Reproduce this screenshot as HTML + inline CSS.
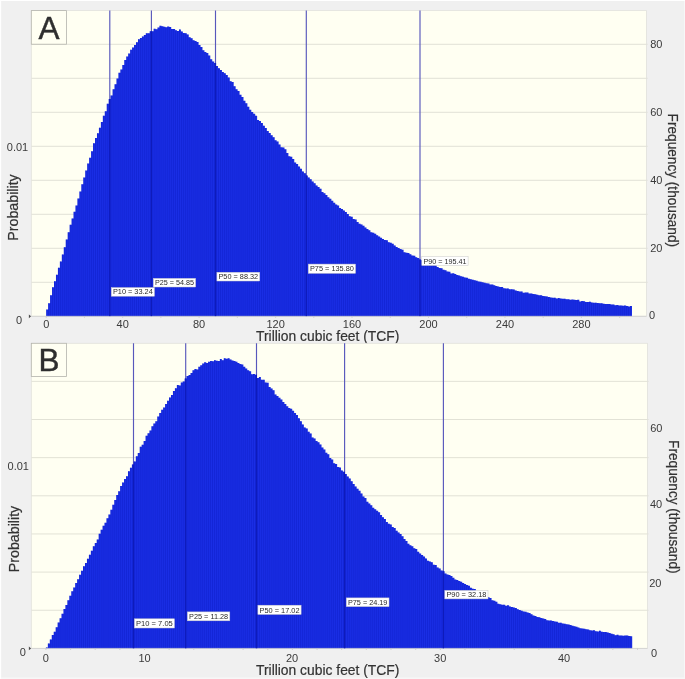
<!DOCTYPE html>
<html lang="en"><head><meta charset="utf-8"><title>Probability distributions A and B</title>
<style>html,body{margin:0;padding:0;background:#fff;}body{width:685px;height:679px;overflow:hidden;font-family:"Liberation Sans",Arial,sans-serif;}svg{display:block;}</style>
</head><body>
<svg width="685" height="679" viewBox="0 0 685 679" font-family="Liberation Sans, Arial, sans-serif">
<rect width="685" height="679" fill="#ffffff"/>
<rect x="1.2" y="1.0" width="683.8" height="678" fill="#f7f7f7"/><rect x="1.2" y="1.0" width="682.8" height="676.4" fill="#f0f0f0"/>
<rect x="31.3" y="10.6" width="615.1" height="305.7" fill="#fffff2"/>
<line x1="31.3" x2="647.6" y1="282.30" y2="282.30" stroke="#e2e2d6" stroke-width="1"/>
<line x1="31.3" x2="647.6" y1="248.30" y2="248.30" stroke="#e2e2d6" stroke-width="1"/>
<line x1="31.3" x2="647.6" y1="214.30" y2="214.30" stroke="#e2e2d6" stroke-width="1"/>
<line x1="31.3" x2="647.6" y1="180.30" y2="180.30" stroke="#e2e2d6" stroke-width="1"/>
<line x1="31.3" x2="647.6" y1="146.30" y2="146.30" stroke="#e2e2d6" stroke-width="1"/>
<line x1="31.3" x2="647.6" y1="112.30" y2="112.30" stroke="#e2e2d6" stroke-width="1"/>
<line x1="31.3" x2="647.6" y1="78.30" y2="78.30" stroke="#e2e2d6" stroke-width="1"/>
<line x1="31.3" x2="647.6" y1="44.30" y2="44.30" stroke="#e2e2d6" stroke-width="1"/>
<rect x="31.3" y="10.6" width="615.1" height="305.7" fill="none" stroke="#e2e2dc" stroke-width="0.8"/>
<line x1="109.8" x2="109.8" y1="10.6" y2="316.3" stroke="#5858bc" stroke-width="1.15"/>
<line x1="151.4" x2="151.4" y1="10.6" y2="316.3" stroke="#5858bc" stroke-width="1.15"/>
<line x1="215.5" x2="215.5" y1="10.6" y2="316.3" stroke="#5858bc" stroke-width="1.15"/>
<line x1="306.3" x2="306.3" y1="10.6" y2="316.3" stroke="#5858bc" stroke-width="1.15"/>
<line x1="420.0" x2="420.0" y1="10.6" y2="316.3" stroke="#5858bc" stroke-width="1.15"/>
<path d="M46.20,316.30L46.20,309.58L48.15,309.58L48.15,303.24L50.11,303.24L50.11,295.24L52.06,295.24L52.06,287.37L54.01,287.37L54.01,281.34L55.96,281.34L55.96,274.66L57.92,274.66L57.92,267.76L59.87,267.76L59.87,261.44L61.82,261.44L61.82,254.39L63.77,254.39L63.77,247.16L65.73,247.16L65.73,239.60L67.68,239.60L67.68,232.22L69.63,232.22L69.63,224.77L71.58,224.77L71.58,218.44L73.54,218.44L73.54,211.69L75.49,211.69L75.49,205.53L77.44,205.53L77.44,198.56L79.40,198.56L79.40,191.48L81.35,191.48L81.35,184.19L83.30,184.19L83.30,177.38L85.25,177.38L85.25,170.53L87.21,170.53L87.21,163.60L89.16,163.60L89.16,157.86L91.11,157.86L91.11,151.31L93.06,151.31L93.06,143.13L95.02,143.13L95.02,137.88L96.97,137.88L96.97,133.36L98.92,133.36L98.92,127.63L100.87,127.63L100.87,122.04L102.83,122.04L102.83,115.78L104.78,115.78L104.78,111.17L106.73,111.17L106.73,103.77L108.69,103.77L108.69,99.05L110.64,99.05L110.64,95.45L112.59,95.45L112.59,89.34L114.54,89.34L114.54,84.27L116.50,84.27L116.50,78.51L118.45,78.51L118.45,72.87L120.40,72.87L120.40,69.42L122.35,69.42L122.35,64.92L124.31,64.92L124.31,59.92L126.26,59.92L126.26,56.60L128.21,56.60L128.21,53.61L130.16,53.61L130.16,49.77L132.12,49.77L132.12,47.51L134.07,47.51L134.07,44.93L136.02,44.93L136.02,42.33L137.98,42.33L137.98,39.33L139.93,39.33L139.93,37.89L141.88,37.89L141.88,36.62L143.83,36.62L143.83,35.06L145.79,35.06L145.79,33.16L147.74,33.16L147.74,33.30L149.69,33.30L149.69,31.22L151.64,31.22L151.64,31.24L153.60,31.24L153.60,28.71L155.55,28.71L155.55,29.18L157.50,29.18L157.50,27.39L159.45,27.39L159.45,25.68L161.41,25.68L161.41,26.26L163.36,26.26L163.36,26.72L165.31,26.72L165.31,27.20L167.27,27.20L167.27,26.57L169.22,26.57L169.22,27.07L171.17,27.07L171.17,28.91L173.12,28.91L173.12,29.10L175.08,29.10L175.08,30.16L177.03,30.16L177.03,30.99L178.98,30.99L178.98,29.50L180.93,29.50L180.93,31.52L182.89,31.52L182.89,33.06L184.84,33.06L184.84,33.17L186.79,33.17L186.79,34.40L188.74,34.40L188.74,37.27L190.70,37.27L190.70,38.37L192.65,38.37L192.65,40.36L194.60,40.36L194.60,40.98L196.56,40.98L196.56,41.88L198.51,41.88L198.51,45.03L200.46,45.03L200.46,47.09L202.41,47.09L202.41,50.35L204.37,50.35L204.37,52.12L206.32,52.12L206.32,52.90L208.27,52.90L208.27,55.38L210.22,55.38L210.22,59.13L212.18,59.13L212.18,61.40L214.13,61.40L214.13,62.98L216.08,62.98L216.08,65.89L218.03,65.89L218.03,68.34L219.99,68.34L219.99,70.09L221.94,70.09L221.94,71.97L223.89,71.97L223.89,73.23L225.85,73.23L225.85,75.03L227.80,75.03L227.80,77.50L229.75,77.50L229.75,81.33L231.70,81.33L231.70,82.07L233.66,82.07L233.66,86.37L235.61,86.37L235.61,89.19L237.56,89.19L237.56,90.89L239.51,90.89L239.51,94.78L241.47,94.78L241.47,96.93L243.42,96.93L243.42,100.85L245.37,100.85L245.37,103.20L247.32,103.20L247.32,106.66L249.28,106.66L249.28,109.85L251.23,109.85L251.23,111.98L253.18,111.98L253.18,113.66L255.14,113.66L255.14,115.63L257.09,115.63L257.09,119.93L259.04,119.93L259.04,121.03L260.99,121.03L260.99,122.95L262.95,122.95L262.95,125.78L264.90,125.78L264.90,127.96L266.85,127.96L266.85,130.98L268.80,130.98L268.80,132.91L270.76,132.91L270.76,135.28L272.71,135.28L272.71,137.20L274.66,137.20L274.66,140.16L276.61,140.16L276.61,141.48L278.57,141.48L278.57,144.56L280.52,144.56L280.52,147.13L282.47,147.13L282.47,147.51L284.43,147.51L284.43,149.13L286.38,149.13L286.38,153.03L288.33,153.03L288.33,156.37L290.28,156.37L290.28,156.82L292.24,156.82L292.24,159.09L294.19,159.09L294.19,162.47L296.14,162.47L296.14,164.08L298.09,164.08L298.09,166.53L300.05,166.53L300.05,168.83L302.00,168.83L302.00,171.46L303.95,171.46L303.95,173.13L305.90,173.13L305.90,175.59L307.86,175.59L307.86,177.45L309.81,177.45L309.81,179.17L311.76,179.17L311.76,181.45L313.72,181.45L313.72,183.13L315.67,183.13L315.67,185.54L317.62,185.54L317.62,186.94L319.57,186.94L319.57,188.87L321.53,188.87L321.53,191.99L323.48,191.99L323.48,193.19L325.43,193.19L325.43,195.10L327.38,195.10L327.38,197.26L329.34,197.26L329.34,198.71L331.29,198.71L331.29,200.64L333.24,200.64L333.24,202.72L335.19,202.72L335.19,204.38L337.15,204.38L337.15,205.43L339.10,205.43L339.10,207.96L341.05,207.96L341.05,208.97L343.01,208.97L343.01,210.38L344.96,210.38L344.96,212.06L346.91,212.06L346.91,213.90L348.86,213.90L348.86,216.36L350.82,216.36L350.82,216.79L352.77,216.79L352.77,218.92L354.72,218.92L354.72,219.52L356.67,219.52L356.67,221.89L358.63,221.89L358.63,223.69L360.58,223.69L360.58,224.62L362.53,224.62L362.53,225.82L364.48,225.82L364.48,227.49L366.44,227.49L366.44,229.00L368.39,229.00L368.39,230.30L370.34,230.30L370.34,232.14L372.30,232.14L372.30,232.79L374.25,232.79L374.25,233.81L376.20,233.81L376.20,235.30L378.15,235.30L378.15,236.58L380.11,236.58L380.11,237.85L382.06,237.85L382.06,238.92L384.01,238.92L384.01,240.04L385.96,240.04L385.96,240.35L387.92,240.35L387.92,242.27L389.87,242.27L389.87,242.77L391.82,242.77L391.82,243.64L393.77,243.64L393.77,245.49L395.73,245.49L395.73,247.01L397.68,247.01L397.68,247.99L399.63,247.99L399.63,249.06L401.59,249.06L401.59,249.84L403.54,249.84L403.54,252.30L405.49,252.30L405.49,252.70L407.44,252.70L407.44,253.05L409.40,253.05L409.40,254.18L411.35,254.18L411.35,255.45L413.30,255.45L413.30,255.83L415.25,255.83L415.25,257.33L417.21,257.33L417.21,258.01L419.16,258.01L419.16,259.45L421.11,259.45L421.11,260.21L423.06,260.21L423.06,259.82L425.02,259.82L425.02,261.54L426.97,261.54L426.97,261.79L428.92,261.79L428.92,263.49L430.88,263.49L430.88,263.99L432.83,263.99L432.83,264.94L434.78,264.94L434.78,265.28L436.73,265.28L436.73,267.10L438.69,267.10L438.69,268.11L440.64,268.11L440.64,268.17L442.59,268.17L442.59,269.67L444.54,269.67L444.54,270.34L446.50,270.34L446.50,271.42L448.45,271.42L448.45,271.81L450.40,271.81L450.40,273.47L452.35,273.47L452.35,273.27L454.31,273.27L454.31,274.12L456.26,274.12L456.26,275.03L458.21,275.03L458.21,275.38L460.17,275.38L460.17,276.21L462.12,276.21L462.12,276.80L464.07,276.80L464.07,277.58L466.02,277.58L466.02,277.87L467.98,277.87L467.98,278.63L469.93,278.63L469.93,279.20L471.88,279.20L471.88,279.65L473.83,279.65L473.83,280.25L475.79,280.25L475.79,280.67L477.74,280.67L477.74,281.50L479.69,281.50L479.69,281.73L481.64,281.73L481.64,282.32L483.60,282.32L483.60,282.71L485.55,282.71L485.55,283.27L487.50,283.27L487.50,283.57L489.46,283.57L489.46,284.59L491.41,284.59L491.41,284.62L493.36,284.62L493.36,285.24L495.31,285.24L495.31,286.06L497.27,286.06L497.27,286.61L499.22,286.61L499.22,286.92L501.17,286.92L501.17,286.98L503.12,286.98L503.12,288.14L505.08,288.14L505.08,288.51L507.03,288.51L507.03,288.41L508.98,288.41L508.98,289.34L510.93,289.34L510.93,289.27L512.89,289.27L512.89,289.55L514.84,289.55L514.84,290.39L516.79,290.39L516.79,290.94L518.75,290.94L518.75,291.58L520.70,291.58L520.70,291.50L522.65,291.50L522.65,292.77L524.60,292.77L524.60,292.44L526.56,292.44L526.56,292.51L528.51,292.51L528.51,293.44L530.46,293.44L530.46,293.54L532.41,293.54L532.41,294.08L534.37,294.08L534.37,294.27L536.32,294.27L536.32,294.72L538.27,294.72L538.27,295.17L540.22,295.17L540.22,295.30L542.18,295.30L542.18,296.08L544.13,296.08L544.13,296.18L546.08,296.18L546.08,296.45L548.04,296.45L548.04,297.04L549.99,297.04L549.99,297.48L551.94,297.48L551.94,297.64L553.89,297.64L553.89,297.78L555.85,297.78L555.85,298.43L557.80,298.43L557.80,298.04L559.75,298.04L559.75,298.41L561.70,298.41L561.70,298.84L563.66,298.84L563.66,298.63L565.61,298.63L565.61,299.14L567.56,299.14L567.56,299.28L569.51,299.28L569.51,299.69L571.47,299.69L571.47,299.40L573.42,299.40L573.42,299.65L575.37,299.65L575.37,300.11L577.33,300.11L577.33,299.67L579.28,299.67L579.28,301.45L581.23,301.45L581.23,300.91L583.18,300.91L583.18,301.32L585.14,301.32L585.14,302.05L587.09,302.05L587.09,302.06L589.04,302.06L589.04,301.81L590.99,301.81L590.99,302.57L592.95,302.57L592.95,302.79L594.90,302.79L594.90,302.65L596.85,302.65L596.85,302.92L598.80,302.92L598.80,303.36L600.76,303.36L600.76,303.28L602.71,303.28L602.71,303.87L604.66,303.87L604.66,304.04L606.62,304.04L606.62,304.03L608.57,304.03L608.57,304.05L610.52,304.05L610.52,304.51L612.47,304.51L612.47,304.52L614.43,304.52L614.43,305.15L616.38,305.15L616.38,305.12L618.33,305.12L618.33,305.45L620.28,305.45L620.28,305.46L622.24,305.46L622.24,305.64L624.19,305.64L624.19,305.53L626.14,305.53L626.14,306.00L628.09,306.00L628.09,306.38L630.05,306.38L630.05,305.98L632.00,305.98L632.00,316.30Z" fill="#1a2ee5"/>
<g clip-path="url(#clipA)">
<rect x="46.2" y="10.6" width="585.8" height="305.7" fill="url(#stripeA)"/>
</g>
<defs><clipPath id="clipA"><path d="M46.20,316.30L46.20,309.58L48.15,309.58L48.15,303.24L50.11,303.24L50.11,295.24L52.06,295.24L52.06,287.37L54.01,287.37L54.01,281.34L55.96,281.34L55.96,274.66L57.92,274.66L57.92,267.76L59.87,267.76L59.87,261.44L61.82,261.44L61.82,254.39L63.77,254.39L63.77,247.16L65.73,247.16L65.73,239.60L67.68,239.60L67.68,232.22L69.63,232.22L69.63,224.77L71.58,224.77L71.58,218.44L73.54,218.44L73.54,211.69L75.49,211.69L75.49,205.53L77.44,205.53L77.44,198.56L79.40,198.56L79.40,191.48L81.35,191.48L81.35,184.19L83.30,184.19L83.30,177.38L85.25,177.38L85.25,170.53L87.21,170.53L87.21,163.60L89.16,163.60L89.16,157.86L91.11,157.86L91.11,151.31L93.06,151.31L93.06,143.13L95.02,143.13L95.02,137.88L96.97,137.88L96.97,133.36L98.92,133.36L98.92,127.63L100.87,127.63L100.87,122.04L102.83,122.04L102.83,115.78L104.78,115.78L104.78,111.17L106.73,111.17L106.73,103.77L108.69,103.77L108.69,99.05L110.64,99.05L110.64,95.45L112.59,95.45L112.59,89.34L114.54,89.34L114.54,84.27L116.50,84.27L116.50,78.51L118.45,78.51L118.45,72.87L120.40,72.87L120.40,69.42L122.35,69.42L122.35,64.92L124.31,64.92L124.31,59.92L126.26,59.92L126.26,56.60L128.21,56.60L128.21,53.61L130.16,53.61L130.16,49.77L132.12,49.77L132.12,47.51L134.07,47.51L134.07,44.93L136.02,44.93L136.02,42.33L137.98,42.33L137.98,39.33L139.93,39.33L139.93,37.89L141.88,37.89L141.88,36.62L143.83,36.62L143.83,35.06L145.79,35.06L145.79,33.16L147.74,33.16L147.74,33.30L149.69,33.30L149.69,31.22L151.64,31.22L151.64,31.24L153.60,31.24L153.60,28.71L155.55,28.71L155.55,29.18L157.50,29.18L157.50,27.39L159.45,27.39L159.45,25.68L161.41,25.68L161.41,26.26L163.36,26.26L163.36,26.72L165.31,26.72L165.31,27.20L167.27,27.20L167.27,26.57L169.22,26.57L169.22,27.07L171.17,27.07L171.17,28.91L173.12,28.91L173.12,29.10L175.08,29.10L175.08,30.16L177.03,30.16L177.03,30.99L178.98,30.99L178.98,29.50L180.93,29.50L180.93,31.52L182.89,31.52L182.89,33.06L184.84,33.06L184.84,33.17L186.79,33.17L186.79,34.40L188.74,34.40L188.74,37.27L190.70,37.27L190.70,38.37L192.65,38.37L192.65,40.36L194.60,40.36L194.60,40.98L196.56,40.98L196.56,41.88L198.51,41.88L198.51,45.03L200.46,45.03L200.46,47.09L202.41,47.09L202.41,50.35L204.37,50.35L204.37,52.12L206.32,52.12L206.32,52.90L208.27,52.90L208.27,55.38L210.22,55.38L210.22,59.13L212.18,59.13L212.18,61.40L214.13,61.40L214.13,62.98L216.08,62.98L216.08,65.89L218.03,65.89L218.03,68.34L219.99,68.34L219.99,70.09L221.94,70.09L221.94,71.97L223.89,71.97L223.89,73.23L225.85,73.23L225.85,75.03L227.80,75.03L227.80,77.50L229.75,77.50L229.75,81.33L231.70,81.33L231.70,82.07L233.66,82.07L233.66,86.37L235.61,86.37L235.61,89.19L237.56,89.19L237.56,90.89L239.51,90.89L239.51,94.78L241.47,94.78L241.47,96.93L243.42,96.93L243.42,100.85L245.37,100.85L245.37,103.20L247.32,103.20L247.32,106.66L249.28,106.66L249.28,109.85L251.23,109.85L251.23,111.98L253.18,111.98L253.18,113.66L255.14,113.66L255.14,115.63L257.09,115.63L257.09,119.93L259.04,119.93L259.04,121.03L260.99,121.03L260.99,122.95L262.95,122.95L262.95,125.78L264.90,125.78L264.90,127.96L266.85,127.96L266.85,130.98L268.80,130.98L268.80,132.91L270.76,132.91L270.76,135.28L272.71,135.28L272.71,137.20L274.66,137.20L274.66,140.16L276.61,140.16L276.61,141.48L278.57,141.48L278.57,144.56L280.52,144.56L280.52,147.13L282.47,147.13L282.47,147.51L284.43,147.51L284.43,149.13L286.38,149.13L286.38,153.03L288.33,153.03L288.33,156.37L290.28,156.37L290.28,156.82L292.24,156.82L292.24,159.09L294.19,159.09L294.19,162.47L296.14,162.47L296.14,164.08L298.09,164.08L298.09,166.53L300.05,166.53L300.05,168.83L302.00,168.83L302.00,171.46L303.95,171.46L303.95,173.13L305.90,173.13L305.90,175.59L307.86,175.59L307.86,177.45L309.81,177.45L309.81,179.17L311.76,179.17L311.76,181.45L313.72,181.45L313.72,183.13L315.67,183.13L315.67,185.54L317.62,185.54L317.62,186.94L319.57,186.94L319.57,188.87L321.53,188.87L321.53,191.99L323.48,191.99L323.48,193.19L325.43,193.19L325.43,195.10L327.38,195.10L327.38,197.26L329.34,197.26L329.34,198.71L331.29,198.71L331.29,200.64L333.24,200.64L333.24,202.72L335.19,202.72L335.19,204.38L337.15,204.38L337.15,205.43L339.10,205.43L339.10,207.96L341.05,207.96L341.05,208.97L343.01,208.97L343.01,210.38L344.96,210.38L344.96,212.06L346.91,212.06L346.91,213.90L348.86,213.90L348.86,216.36L350.82,216.36L350.82,216.79L352.77,216.79L352.77,218.92L354.72,218.92L354.72,219.52L356.67,219.52L356.67,221.89L358.63,221.89L358.63,223.69L360.58,223.69L360.58,224.62L362.53,224.62L362.53,225.82L364.48,225.82L364.48,227.49L366.44,227.49L366.44,229.00L368.39,229.00L368.39,230.30L370.34,230.30L370.34,232.14L372.30,232.14L372.30,232.79L374.25,232.79L374.25,233.81L376.20,233.81L376.20,235.30L378.15,235.30L378.15,236.58L380.11,236.58L380.11,237.85L382.06,237.85L382.06,238.92L384.01,238.92L384.01,240.04L385.96,240.04L385.96,240.35L387.92,240.35L387.92,242.27L389.87,242.27L389.87,242.77L391.82,242.77L391.82,243.64L393.77,243.64L393.77,245.49L395.73,245.49L395.73,247.01L397.68,247.01L397.68,247.99L399.63,247.99L399.63,249.06L401.59,249.06L401.59,249.84L403.54,249.84L403.54,252.30L405.49,252.30L405.49,252.70L407.44,252.70L407.44,253.05L409.40,253.05L409.40,254.18L411.35,254.18L411.35,255.45L413.30,255.45L413.30,255.83L415.25,255.83L415.25,257.33L417.21,257.33L417.21,258.01L419.16,258.01L419.16,259.45L421.11,259.45L421.11,260.21L423.06,260.21L423.06,259.82L425.02,259.82L425.02,261.54L426.97,261.54L426.97,261.79L428.92,261.79L428.92,263.49L430.88,263.49L430.88,263.99L432.83,263.99L432.83,264.94L434.78,264.94L434.78,265.28L436.73,265.28L436.73,267.10L438.69,267.10L438.69,268.11L440.64,268.11L440.64,268.17L442.59,268.17L442.59,269.67L444.54,269.67L444.54,270.34L446.50,270.34L446.50,271.42L448.45,271.42L448.45,271.81L450.40,271.81L450.40,273.47L452.35,273.47L452.35,273.27L454.31,273.27L454.31,274.12L456.26,274.12L456.26,275.03L458.21,275.03L458.21,275.38L460.17,275.38L460.17,276.21L462.12,276.21L462.12,276.80L464.07,276.80L464.07,277.58L466.02,277.58L466.02,277.87L467.98,277.87L467.98,278.63L469.93,278.63L469.93,279.20L471.88,279.20L471.88,279.65L473.83,279.65L473.83,280.25L475.79,280.25L475.79,280.67L477.74,280.67L477.74,281.50L479.69,281.50L479.69,281.73L481.64,281.73L481.64,282.32L483.60,282.32L483.60,282.71L485.55,282.71L485.55,283.27L487.50,283.27L487.50,283.57L489.46,283.57L489.46,284.59L491.41,284.59L491.41,284.62L493.36,284.62L493.36,285.24L495.31,285.24L495.31,286.06L497.27,286.06L497.27,286.61L499.22,286.61L499.22,286.92L501.17,286.92L501.17,286.98L503.12,286.98L503.12,288.14L505.08,288.14L505.08,288.51L507.03,288.51L507.03,288.41L508.98,288.41L508.98,289.34L510.93,289.34L510.93,289.27L512.89,289.27L512.89,289.55L514.84,289.55L514.84,290.39L516.79,290.39L516.79,290.94L518.75,290.94L518.75,291.58L520.70,291.58L520.70,291.50L522.65,291.50L522.65,292.77L524.60,292.77L524.60,292.44L526.56,292.44L526.56,292.51L528.51,292.51L528.51,293.44L530.46,293.44L530.46,293.54L532.41,293.54L532.41,294.08L534.37,294.08L534.37,294.27L536.32,294.27L536.32,294.72L538.27,294.72L538.27,295.17L540.22,295.17L540.22,295.30L542.18,295.30L542.18,296.08L544.13,296.08L544.13,296.18L546.08,296.18L546.08,296.45L548.04,296.45L548.04,297.04L549.99,297.04L549.99,297.48L551.94,297.48L551.94,297.64L553.89,297.64L553.89,297.78L555.85,297.78L555.85,298.43L557.80,298.43L557.80,298.04L559.75,298.04L559.75,298.41L561.70,298.41L561.70,298.84L563.66,298.84L563.66,298.63L565.61,298.63L565.61,299.14L567.56,299.14L567.56,299.28L569.51,299.28L569.51,299.69L571.47,299.69L571.47,299.40L573.42,299.40L573.42,299.65L575.37,299.65L575.37,300.11L577.33,300.11L577.33,299.67L579.28,299.67L579.28,301.45L581.23,301.45L581.23,300.91L583.18,300.91L583.18,301.32L585.14,301.32L585.14,302.05L587.09,302.05L587.09,302.06L589.04,302.06L589.04,301.81L590.99,301.81L590.99,302.57L592.95,302.57L592.95,302.79L594.90,302.79L594.90,302.65L596.85,302.65L596.85,302.92L598.80,302.92L598.80,303.36L600.76,303.36L600.76,303.28L602.71,303.28L602.71,303.87L604.66,303.87L604.66,304.04L606.62,304.04L606.62,304.03L608.57,304.03L608.57,304.05L610.52,304.05L610.52,304.51L612.47,304.51L612.47,304.52L614.43,304.52L614.43,305.15L616.38,305.15L616.38,305.12L618.33,305.12L618.33,305.45L620.28,305.45L620.28,305.46L622.24,305.46L622.24,305.64L624.19,305.64L624.19,305.53L626.14,305.53L626.14,306.00L628.09,306.00L628.09,306.38L630.05,306.38L630.05,305.98L632.00,305.98L632.00,316.30Z"/></clipPath><pattern id="stripeA" x="46.2" y="0" width="1.9527" height="10" patternUnits="userSpaceOnUse"><rect x="0" y="0" width="0.8" height="10" fill="#0c1cc6" fill-opacity="0.6"/></pattern></defs>
<line x1="31.3" x2="646.4" y1="316.3" y2="316.3" stroke="#d0d0d0" stroke-width="0.8"/>
<line x1="46.20" x2="46.20" y1="316.3" y2="317.90000000000003" stroke="#c4c4c4" stroke-width="0.7"/>
<line x1="84.43" x2="84.43" y1="316.3" y2="317.90000000000003" stroke="#c4c4c4" stroke-width="0.7"/>
<line x1="122.66" x2="122.66" y1="316.3" y2="317.90000000000003" stroke="#c4c4c4" stroke-width="0.7"/>
<line x1="160.89" x2="160.89" y1="316.3" y2="317.90000000000003" stroke="#c4c4c4" stroke-width="0.7"/>
<line x1="199.12" x2="199.12" y1="316.3" y2="317.90000000000003" stroke="#c4c4c4" stroke-width="0.7"/>
<line x1="237.35" x2="237.35" y1="316.3" y2="317.90000000000003" stroke="#c4c4c4" stroke-width="0.7"/>
<line x1="275.58" x2="275.58" y1="316.3" y2="317.90000000000003" stroke="#c4c4c4" stroke-width="0.7"/>
<line x1="313.81" x2="313.81" y1="316.3" y2="317.90000000000003" stroke="#c4c4c4" stroke-width="0.7"/>
<line x1="352.04" x2="352.04" y1="316.3" y2="317.90000000000003" stroke="#c4c4c4" stroke-width="0.7"/>
<line x1="390.27" x2="390.27" y1="316.3" y2="317.90000000000003" stroke="#c4c4c4" stroke-width="0.7"/>
<line x1="428.50" x2="428.50" y1="316.3" y2="317.90000000000003" stroke="#c4c4c4" stroke-width="0.7"/>
<line x1="466.73" x2="466.73" y1="316.3" y2="317.90000000000003" stroke="#c4c4c4" stroke-width="0.7"/>
<line x1="504.96" x2="504.96" y1="316.3" y2="317.90000000000003" stroke="#c4c4c4" stroke-width="0.7"/>
<line x1="543.19" x2="543.19" y1="316.3" y2="317.90000000000003" stroke="#c4c4c4" stroke-width="0.7"/>
<line x1="581.42" x2="581.42" y1="316.3" y2="317.90000000000003" stroke="#c4c4c4" stroke-width="0.7"/>
<line x1="619.65" x2="619.65" y1="316.3" y2="317.90000000000003" stroke="#c4c4c4" stroke-width="0.7"/>
<g clip-path="url(#clipA)"><line x1="109.8" x2="109.8" y1="10.6" y2="316.3" stroke="#0e1bbb" stroke-width="1.3"/></g>
<g clip-path="url(#clipA)"><line x1="151.4" x2="151.4" y1="10.6" y2="316.3" stroke="#0e1bbb" stroke-width="1.3"/></g>
<g clip-path="url(#clipA)"><line x1="215.5" x2="215.5" y1="10.6" y2="316.3" stroke="#0e1bbb" stroke-width="1.3"/></g>
<g clip-path="url(#clipA)"><line x1="306.3" x2="306.3" y1="10.6" y2="316.3" stroke="#0e1bbb" stroke-width="1.3"/></g>
<g clip-path="url(#clipA)"><line x1="420.0" x2="420.0" y1="10.6" y2="316.3" stroke="#0e1bbb" stroke-width="1.3"/></g>
<rect x="111.3" y="287.6" width="43.10" height="8.60" fill="#ffffff" stroke="#c9c9c9" stroke-width="0.5"/>
<text x="112.90" y="294.30" font-size="7" fill="#2a2a2a" textLength="39.90" lengthAdjust="spacingAndGlyphs">P10 = 33.24</text>
<rect x="153.3" y="278.4" width="42.30" height="8.60" fill="#ffffff" stroke="#c9c9c9" stroke-width="0.5"/>
<text x="154.90" y="285.10" font-size="7" fill="#2a2a2a" textLength="39.10" lengthAdjust="spacingAndGlyphs">P25 = 54.85</text>
<rect x="216.9" y="272.3" width="42.80" height="8.70" fill="#ffffff" stroke="#c9c9c9" stroke-width="0.5"/>
<text x="218.50" y="279.10" font-size="7" fill="#2a2a2a" textLength="39.60" lengthAdjust="spacingAndGlyphs">P50 = 88.32</text>
<rect x="308.3" y="264.1" width="47.20" height="9.20" fill="#ffffff" stroke="#c9c9c9" stroke-width="0.5"/>
<text x="309.90" y="271.40" font-size="7" fill="#2a2a2a" textLength="44.00" lengthAdjust="spacingAndGlyphs">P75 = 135.80</text>
<rect x="421.8" y="256.6" width="46.30" height="8.90" fill="#ffffff" stroke="#c9c9c9" stroke-width="0.5"/>
<text x="423.40" y="263.60" font-size="7" fill="#2a2a2a" textLength="43.10" lengthAdjust="spacingAndGlyphs">P90 = 195.41</text>
<rect x="31.3" y="10.6" width="35.2" height="33.6" fill="#fffff2" stroke="#b4b4ac" stroke-width="0.8"/>
<text x="49.0" y="38.70" font-size="31.5" text-anchor="middle" fill="#2e2e2e" stroke="#2e2e2e" stroke-width="0.4">A</text>
<text x="28.2" y="151.4" font-size="11" text-anchor="end" fill="#3a3a3a">0.01</text>
<text x="22.1" y="324.0" font-size="11" text-anchor="end" fill="#3a3a3a">0</text>
<text x="650.2" y="47.7" font-size="11" fill="#3a3a3a">80</text>
<text x="650.2" y="115.7" font-size="11" fill="#3a3a3a">60</text>
<text x="650.2" y="183.9" font-size="11" fill="#3a3a3a">40</text>
<text x="650.2" y="251.9" font-size="11" fill="#3a3a3a">20</text>
<text x="648.9" y="318.7" font-size="11" fill="#3a3a3a">0</text>
<text x="46.2" y="328.0" font-size="11" text-anchor="middle" fill="#3a3a3a">0</text>
<text x="122.66" y="328.0" font-size="11" text-anchor="middle" fill="#3a3a3a">40</text>
<text x="199.12" y="328.0" font-size="11" text-anchor="middle" fill="#3a3a3a">80</text>
<text x="275.58" y="328.0" font-size="11" text-anchor="middle" fill="#3a3a3a">120</text>
<text x="352.03999999999996" y="328.0" font-size="11" text-anchor="middle" fill="#3a3a3a">160</text>
<text x="428.5" y="328.0" font-size="11" text-anchor="middle" fill="#3a3a3a">200</text>
<text x="504.96" y="328.0" font-size="11" text-anchor="middle" fill="#3a3a3a">240</text>
<text x="581.4200000000001" y="328.0" font-size="11" text-anchor="middle" fill="#3a3a3a">280</text>
<path d="M28.900000000000002,314.40000000000003L31.1,316.3L28.900000000000002,318.2Z" fill="#4a4a4a"/>
<text x="256.0" y="341.0" font-size="14" fill="#333" textLength="143.4" stroke="#333" stroke-width="0.2" lengthAdjust="spacingAndGlyphs">Trillion cubic feet (TCF)</text>
<text transform="translate(18.4,207.5) rotate(-90)" font-size="14" fill="#333" text-anchor="middle" textLength="66.5" stroke="#333" stroke-width="0.2" lengthAdjust="spacingAndGlyphs">Probability</text>
<text transform="translate(668.3,180.3) rotate(90)" font-size="14" fill="#333" text-anchor="middle" textLength="133.4" stroke="#333" stroke-width="0.2" lengthAdjust="spacingAndGlyphs">Frequency (thousand)</text>
<rect x="31.3" y="343.3" width="616.1" height="305.09999999999997" fill="#fffff2"/>
<line x1="31.3" x2="648.6" y1="610.25" y2="610.25" stroke="#e2e2d6" stroke-width="1"/>
<line x1="31.3" x2="648.6" y1="572.10" y2="572.10" stroke="#e2e2d6" stroke-width="1"/>
<line x1="31.3" x2="648.6" y1="533.95" y2="533.95" stroke="#e2e2d6" stroke-width="1"/>
<line x1="31.3" x2="648.6" y1="495.80" y2="495.80" stroke="#e2e2d6" stroke-width="1"/>
<line x1="31.3" x2="648.6" y1="457.65" y2="457.65" stroke="#e2e2d6" stroke-width="1"/>
<line x1="31.3" x2="648.6" y1="419.50" y2="419.50" stroke="#e2e2d6" stroke-width="1"/>
<line x1="31.3" x2="648.6" y1="381.35" y2="381.35" stroke="#e2e2d6" stroke-width="1"/>
<rect x="31.3" y="343.3" width="616.1" height="305.09999999999997" fill="none" stroke="#e2e2dc" stroke-width="0.8"/>
<line x1="133.5" x2="133.5" y1="343.3" y2="648.4" stroke="#5858bc" stroke-width="1.15"/>
<line x1="185.7" x2="185.7" y1="343.3" y2="648.4" stroke="#5858bc" stroke-width="1.15"/>
<line x1="256.5" x2="256.5" y1="343.3" y2="648.4" stroke="#5858bc" stroke-width="1.15"/>
<line x1="344.6" x2="344.6" y1="343.3" y2="648.4" stroke="#5858bc" stroke-width="1.15"/>
<line x1="443.4" x2="443.4" y1="343.3" y2="648.4" stroke="#5858bc" stroke-width="1.15"/>
<path d="M45.90,648.40L45.90,647.60L47.85,647.60L47.85,643.52L49.81,643.52L49.81,639.54L51.76,639.54L51.76,634.94L53.72,634.94L53.72,631.78L55.67,631.78L55.67,627.28L57.63,627.28L57.63,622.45L59.58,622.45L59.58,618.28L61.53,618.28L61.53,613.69L63.49,613.69L63.49,609.02L65.44,609.02L65.44,605.03L67.40,605.03L67.40,600.19L69.35,600.19L69.35,595.78L71.31,595.78L71.31,591.29L73.26,591.29L73.26,587.46L75.22,587.46L75.22,583.08L77.17,583.08L77.17,579.17L79.12,579.17L79.12,574.64L81.08,574.64L81.08,570.81L83.03,570.81L83.03,566.36L84.99,566.36L84.99,562.99L86.94,562.99L86.94,558.72L88.90,558.72L88.90,554.77L90.85,554.77L90.85,550.79L92.80,550.79L92.80,546.19L94.76,546.19L94.76,542.97L96.71,542.97L96.71,539.53L98.67,539.53L98.67,533.86L100.62,533.86L100.62,529.74L102.58,529.74L102.58,525.76L104.53,525.76L104.53,522.76L106.48,522.76L106.48,518.26L108.44,518.26L108.44,514.46L110.39,514.46L110.39,509.82L112.35,509.82L112.35,504.84L114.30,504.84L114.30,500.06L116.26,500.06L116.26,495.10L118.21,495.10L118.21,491.24L120.16,491.24L120.16,486.02L122.12,486.02L122.12,482.43L124.07,482.43L124.07,478.97L126.03,478.97L126.03,476.16L127.98,476.16L127.98,471.23L129.94,471.23L129.94,467.63L131.89,467.63L131.89,464.38L133.84,464.38L133.84,461.38L135.80,461.38L135.80,456.37L137.75,456.37L137.75,452.92L139.71,452.92L139.71,446.70L141.66,446.70L141.66,444.66L143.62,444.66L143.62,440.88L145.57,440.88L145.57,435.69L147.53,435.69L147.53,433.18L149.48,433.18L149.48,430.41L151.43,430.41L151.43,426.28L153.39,426.28L153.39,423.57L155.34,423.57L155.34,421.25L157.30,421.25L157.30,416.61L159.25,416.61L159.25,413.09L161.21,413.09L161.21,409.67L163.16,409.67L163.16,407.59L165.11,407.59L165.11,403.91L167.07,403.91L167.07,400.73L169.02,400.73L169.02,397.55L170.98,397.55L170.98,395.02L172.93,395.02L172.93,391.02L174.89,391.02L174.89,388.16L176.84,388.16L176.84,385.12L178.79,385.12L178.79,385.59L180.75,385.59L180.75,382.59L182.70,382.59L182.70,381.61L184.66,381.61L184.66,378.48L186.61,378.48L186.61,376.02L188.57,376.02L188.57,375.12L190.52,375.12L190.52,372.91L192.47,372.91L192.48,370.26L194.43,370.26L194.43,368.89L196.38,368.89L196.38,369.41L198.34,369.41L198.34,366.81L200.29,366.81L200.29,365.37L202.25,365.37L202.25,363.54L204.20,363.54L204.20,362.37L206.16,362.37L206.16,363.07L208.11,363.07L208.11,361.85L210.06,361.85L210.06,360.98L212.02,360.98L212.02,361.15L213.97,361.15L213.97,360.21L215.93,360.21L215.93,360.71L217.88,360.71L217.88,360.99L219.84,360.99L219.84,358.90L221.79,358.90L221.79,360.23L223.74,360.23L223.74,358.24L225.70,358.24L225.70,358.84L227.65,358.84L227.65,358.37L229.61,358.37L229.61,359.47L231.56,359.47L231.56,360.50L233.52,360.50L233.52,361.00L235.47,361.00L235.47,361.72L237.42,361.72L237.42,362.94L239.38,362.94L239.38,364.03L241.33,364.03L241.33,364.62L243.29,364.62L243.29,366.84L245.24,366.84L245.24,368.57L247.20,368.57L247.20,370.22L249.15,370.22L249.15,371.34L251.11,371.34L251.11,374.14L253.06,374.14L253.06,373.92L255.01,373.92L255.01,374.75L256.97,374.75L256.97,377.91L258.92,377.91L258.92,376.99L260.88,376.99L260.88,379.86L262.83,379.86L262.83,379.85L264.79,379.85L264.79,382.48L266.74,382.48L266.74,382.69L268.69,382.69L268.69,387.03L270.65,387.03L270.65,388.56L272.60,388.56L272.60,390.29L274.56,390.29L274.56,394.46L276.51,394.46L276.51,396.04L278.47,396.04L278.47,397.79L280.42,397.79L280.42,399.45L282.37,399.45L282.37,402.09L284.33,402.09L284.33,403.97L286.28,403.97L286.28,406.36L288.24,406.36L288.24,408.09L290.19,408.09L290.19,408.80L292.15,408.80L292.15,410.81L294.10,410.81L294.10,413.06L296.05,413.06L296.05,415.05L298.01,415.05L298.01,418.29L299.96,418.29L299.96,421.37L301.92,421.37L301.92,424.53L303.87,424.53L303.87,427.44L305.83,427.44L305.83,428.50L307.78,428.50L307.78,431.83L309.74,431.83L309.74,433.57L311.69,433.57L311.69,437.53L313.64,437.53L313.64,438.40L315.60,438.40L315.60,440.90L317.55,440.90L317.55,442.13L319.51,442.13L319.51,444.42L321.46,444.42L321.46,447.39L323.42,447.39L323.42,449.56L325.37,449.56L325.37,452.66L327.32,452.66L327.32,454.14L329.28,454.14L329.28,458.03L331.23,458.03L331.23,459.42L333.19,459.42L333.19,463.15L335.14,463.15L335.14,464.04L337.10,464.04L337.10,466.88L339.05,466.88L339.05,467.48L341.00,467.48L341.00,470.60L342.96,470.60L342.96,471.86L344.91,471.86L344.91,474.11L346.87,474.11L346.87,476.47L348.82,476.47L348.82,478.46L350.78,478.46L350.78,481.14L352.73,481.14L352.73,483.94L354.68,483.94L354.68,486.51L356.64,486.51L356.64,488.75L358.59,488.75L358.59,490.63L360.55,490.63L360.55,493.48L362.50,493.48L362.50,496.38L364.46,496.38L364.46,497.90L366.41,497.90L366.41,501.77L368.37,501.77L368.37,503.44L370.32,503.44L370.32,505.36L372.27,505.36L372.27,507.73L374.23,507.73L374.23,509.29L376.18,509.29L376.18,510.82L378.14,510.82L378.14,512.13L380.09,512.13L380.09,514.91L382.05,514.91L382.05,517.22L384.00,517.22L384.00,518.95L385.95,518.95L385.95,522.08L387.91,522.08L387.91,523.80L389.86,523.80L389.86,524.39L391.82,524.39L391.82,526.99L393.77,526.99L393.77,527.96L395.73,527.96L395.73,530.77L397.68,530.77L397.68,532.55L399.63,532.55L399.63,533.88L401.59,533.88L401.59,536.31L403.54,536.31L403.54,539.06L405.50,539.06L405.50,541.06L407.45,541.06L407.45,543.73L409.41,543.73L409.41,545.14L411.36,545.14L411.36,546.37L413.31,546.37L413.31,548.37L415.27,548.37L415.27,548.94L417.22,548.94L417.22,551.64L419.18,551.64L419.18,553.61L421.13,553.61L421.13,554.92L423.09,554.92L423.09,556.40L425.04,556.40L425.04,558.54L427.00,558.54L427.00,560.63L428.95,560.63L428.95,561.42L430.90,561.42L430.90,562.35L432.86,562.35L432.86,564.79L434.81,564.79L434.81,564.97L436.77,564.97L436.77,567.40L438.72,567.40L438.72,568.50L440.68,568.50L440.68,570.58L442.63,570.58L442.63,571.35L444.58,571.35L444.58,573.51L446.54,573.51L446.54,574.42L448.49,574.42L448.49,574.92L450.45,574.92L450.45,576.03L452.40,576.03L452.40,577.77L454.36,577.77L454.36,579.42L456.31,579.42L456.31,579.99L458.26,579.99L458.26,580.91L460.22,580.91L460.22,581.74L462.17,581.74L462.17,583.07L464.13,583.07L464.13,584.00L466.08,584.00L466.08,585.08L468.04,585.08L468.04,585.79L469.99,585.79L469.99,587.68L471.94,587.68L471.94,588.86L473.90,588.86L473.90,589.05L475.85,589.05L475.85,591.35L477.81,591.35L477.81,591.89L479.76,591.89L479.76,592.56L481.72,592.56L481.72,593.18L483.67,593.18L483.67,595.16L485.62,595.16L485.62,596.32L487.58,596.32L487.58,597.17L489.53,597.17L489.53,598.00L491.49,598.00L491.49,600.13L493.44,600.13L493.44,600.72L495.40,600.72L495.40,601.81L497.35,601.81L497.35,603.79L499.31,603.79L499.31,604.37L501.26,604.37L501.26,604.68L503.21,604.68L503.21,604.84L505.17,604.84L505.17,605.72L507.12,605.72L507.12,605.35L509.08,605.35L509.08,606.62L511.03,606.62L511.03,606.94L512.99,606.94L512.99,607.43L514.94,607.43L514.94,608.01L516.89,608.01L516.89,609.34L518.85,609.34L518.85,609.92L520.80,609.92L520.80,610.66L522.76,610.66L522.76,611.59L524.71,611.59L524.71,611.83L526.67,611.83L526.67,612.46L528.62,612.46L528.62,613.10L530.57,613.10L530.57,614.34L532.53,614.34L532.53,615.49L534.48,615.49L534.48,616.05L536.44,616.05L536.44,617.06L538.39,617.06L538.39,617.27L540.35,617.27L540.35,618.11L542.30,618.11L542.30,618.59L544.26,618.59L544.25,618.98L546.21,618.98L546.21,620.32L548.16,620.32L548.16,620.50L550.12,620.50L550.12,620.51L552.07,620.51L552.07,620.96L554.03,620.96L554.03,621.61L555.98,621.61L555.98,621.72L557.94,621.72L557.94,622.70L559.89,622.70L559.89,622.71L561.84,622.71L561.84,623.43L563.80,623.43L563.80,623.73L565.75,623.73L565.75,624.35L567.71,624.35L567.71,624.60L569.66,624.60L569.66,625.02L571.62,625.02L571.62,625.67L573.57,625.67L573.57,626.26L575.52,626.26L575.52,626.87L577.48,626.87L577.48,627.46L579.43,627.46L579.43,628.32L581.39,628.32L581.39,628.58L583.34,628.58L583.34,628.72L585.30,628.72L585.30,629.37L587.25,629.37L587.25,629.39L589.20,629.39L589.20,630.30L591.16,630.30L591.16,630.42L593.11,630.42L593.11,630.28L595.07,630.28L595.07,631.13L597.02,631.13L597.02,631.45L598.98,631.45L598.98,630.86L600.93,630.86L600.93,631.65L602.88,631.65L602.88,632.02L604.84,632.02L604.84,631.97L606.79,631.97L606.79,632.54L608.75,632.54L608.75,632.97L610.70,632.97L610.70,633.78L612.66,633.78L612.66,634.18L614.61,634.18L614.61,635.18L616.57,635.18L616.57,634.81L618.52,634.81L618.52,635.47L620.47,635.47L620.47,635.43L622.43,635.43L622.43,635.68L624.38,635.68L624.38,635.52L626.34,635.52L626.34,635.50L628.29,635.50L628.29,635.90L630.25,635.90L630.25,636.36L632.20,636.36L632.20,648.40Z" fill="#1a2ee5"/>
<g clip-path="url(#clipB)">
<rect x="45.9" y="343.3" width="586.3000000000001" height="305.09999999999997" fill="url(#stripeB)"/>
</g>
<defs><clipPath id="clipB"><path d="M45.90,648.40L45.90,647.60L47.85,647.60L47.85,643.52L49.81,643.52L49.81,639.54L51.76,639.54L51.76,634.94L53.72,634.94L53.72,631.78L55.67,631.78L55.67,627.28L57.63,627.28L57.63,622.45L59.58,622.45L59.58,618.28L61.53,618.28L61.53,613.69L63.49,613.69L63.49,609.02L65.44,609.02L65.44,605.03L67.40,605.03L67.40,600.19L69.35,600.19L69.35,595.78L71.31,595.78L71.31,591.29L73.26,591.29L73.26,587.46L75.22,587.46L75.22,583.08L77.17,583.08L77.17,579.17L79.12,579.17L79.12,574.64L81.08,574.64L81.08,570.81L83.03,570.81L83.03,566.36L84.99,566.36L84.99,562.99L86.94,562.99L86.94,558.72L88.90,558.72L88.90,554.77L90.85,554.77L90.85,550.79L92.80,550.79L92.80,546.19L94.76,546.19L94.76,542.97L96.71,542.97L96.71,539.53L98.67,539.53L98.67,533.86L100.62,533.86L100.62,529.74L102.58,529.74L102.58,525.76L104.53,525.76L104.53,522.76L106.48,522.76L106.48,518.26L108.44,518.26L108.44,514.46L110.39,514.46L110.39,509.82L112.35,509.82L112.35,504.84L114.30,504.84L114.30,500.06L116.26,500.06L116.26,495.10L118.21,495.10L118.21,491.24L120.16,491.24L120.16,486.02L122.12,486.02L122.12,482.43L124.07,482.43L124.07,478.97L126.03,478.97L126.03,476.16L127.98,476.16L127.98,471.23L129.94,471.23L129.94,467.63L131.89,467.63L131.89,464.38L133.84,464.38L133.84,461.38L135.80,461.38L135.80,456.37L137.75,456.37L137.75,452.92L139.71,452.92L139.71,446.70L141.66,446.70L141.66,444.66L143.62,444.66L143.62,440.88L145.57,440.88L145.57,435.69L147.53,435.69L147.53,433.18L149.48,433.18L149.48,430.41L151.43,430.41L151.43,426.28L153.39,426.28L153.39,423.57L155.34,423.57L155.34,421.25L157.30,421.25L157.30,416.61L159.25,416.61L159.25,413.09L161.21,413.09L161.21,409.67L163.16,409.67L163.16,407.59L165.11,407.59L165.11,403.91L167.07,403.91L167.07,400.73L169.02,400.73L169.02,397.55L170.98,397.55L170.98,395.02L172.93,395.02L172.93,391.02L174.89,391.02L174.89,388.16L176.84,388.16L176.84,385.12L178.79,385.12L178.79,385.59L180.75,385.59L180.75,382.59L182.70,382.59L182.70,381.61L184.66,381.61L184.66,378.48L186.61,378.48L186.61,376.02L188.57,376.02L188.57,375.12L190.52,375.12L190.52,372.91L192.47,372.91L192.48,370.26L194.43,370.26L194.43,368.89L196.38,368.89L196.38,369.41L198.34,369.41L198.34,366.81L200.29,366.81L200.29,365.37L202.25,365.37L202.25,363.54L204.20,363.54L204.20,362.37L206.16,362.37L206.16,363.07L208.11,363.07L208.11,361.85L210.06,361.85L210.06,360.98L212.02,360.98L212.02,361.15L213.97,361.15L213.97,360.21L215.93,360.21L215.93,360.71L217.88,360.71L217.88,360.99L219.84,360.99L219.84,358.90L221.79,358.90L221.79,360.23L223.74,360.23L223.74,358.24L225.70,358.24L225.70,358.84L227.65,358.84L227.65,358.37L229.61,358.37L229.61,359.47L231.56,359.47L231.56,360.50L233.52,360.50L233.52,361.00L235.47,361.00L235.47,361.72L237.42,361.72L237.42,362.94L239.38,362.94L239.38,364.03L241.33,364.03L241.33,364.62L243.29,364.62L243.29,366.84L245.24,366.84L245.24,368.57L247.20,368.57L247.20,370.22L249.15,370.22L249.15,371.34L251.11,371.34L251.11,374.14L253.06,374.14L253.06,373.92L255.01,373.92L255.01,374.75L256.97,374.75L256.97,377.91L258.92,377.91L258.92,376.99L260.88,376.99L260.88,379.86L262.83,379.86L262.83,379.85L264.79,379.85L264.79,382.48L266.74,382.48L266.74,382.69L268.69,382.69L268.69,387.03L270.65,387.03L270.65,388.56L272.60,388.56L272.60,390.29L274.56,390.29L274.56,394.46L276.51,394.46L276.51,396.04L278.47,396.04L278.47,397.79L280.42,397.79L280.42,399.45L282.37,399.45L282.37,402.09L284.33,402.09L284.33,403.97L286.28,403.97L286.28,406.36L288.24,406.36L288.24,408.09L290.19,408.09L290.19,408.80L292.15,408.80L292.15,410.81L294.10,410.81L294.10,413.06L296.05,413.06L296.05,415.05L298.01,415.05L298.01,418.29L299.96,418.29L299.96,421.37L301.92,421.37L301.92,424.53L303.87,424.53L303.87,427.44L305.83,427.44L305.83,428.50L307.78,428.50L307.78,431.83L309.74,431.83L309.74,433.57L311.69,433.57L311.69,437.53L313.64,437.53L313.64,438.40L315.60,438.40L315.60,440.90L317.55,440.90L317.55,442.13L319.51,442.13L319.51,444.42L321.46,444.42L321.46,447.39L323.42,447.39L323.42,449.56L325.37,449.56L325.37,452.66L327.32,452.66L327.32,454.14L329.28,454.14L329.28,458.03L331.23,458.03L331.23,459.42L333.19,459.42L333.19,463.15L335.14,463.15L335.14,464.04L337.10,464.04L337.10,466.88L339.05,466.88L339.05,467.48L341.00,467.48L341.00,470.60L342.96,470.60L342.96,471.86L344.91,471.86L344.91,474.11L346.87,474.11L346.87,476.47L348.82,476.47L348.82,478.46L350.78,478.46L350.78,481.14L352.73,481.14L352.73,483.94L354.68,483.94L354.68,486.51L356.64,486.51L356.64,488.75L358.59,488.75L358.59,490.63L360.55,490.63L360.55,493.48L362.50,493.48L362.50,496.38L364.46,496.38L364.46,497.90L366.41,497.90L366.41,501.77L368.37,501.77L368.37,503.44L370.32,503.44L370.32,505.36L372.27,505.36L372.27,507.73L374.23,507.73L374.23,509.29L376.18,509.29L376.18,510.82L378.14,510.82L378.14,512.13L380.09,512.13L380.09,514.91L382.05,514.91L382.05,517.22L384.00,517.22L384.00,518.95L385.95,518.95L385.95,522.08L387.91,522.08L387.91,523.80L389.86,523.80L389.86,524.39L391.82,524.39L391.82,526.99L393.77,526.99L393.77,527.96L395.73,527.96L395.73,530.77L397.68,530.77L397.68,532.55L399.63,532.55L399.63,533.88L401.59,533.88L401.59,536.31L403.54,536.31L403.54,539.06L405.50,539.06L405.50,541.06L407.45,541.06L407.45,543.73L409.41,543.73L409.41,545.14L411.36,545.14L411.36,546.37L413.31,546.37L413.31,548.37L415.27,548.37L415.27,548.94L417.22,548.94L417.22,551.64L419.18,551.64L419.18,553.61L421.13,553.61L421.13,554.92L423.09,554.92L423.09,556.40L425.04,556.40L425.04,558.54L427.00,558.54L427.00,560.63L428.95,560.63L428.95,561.42L430.90,561.42L430.90,562.35L432.86,562.35L432.86,564.79L434.81,564.79L434.81,564.97L436.77,564.97L436.77,567.40L438.72,567.40L438.72,568.50L440.68,568.50L440.68,570.58L442.63,570.58L442.63,571.35L444.58,571.35L444.58,573.51L446.54,573.51L446.54,574.42L448.49,574.42L448.49,574.92L450.45,574.92L450.45,576.03L452.40,576.03L452.40,577.77L454.36,577.77L454.36,579.42L456.31,579.42L456.31,579.99L458.26,579.99L458.26,580.91L460.22,580.91L460.22,581.74L462.17,581.74L462.17,583.07L464.13,583.07L464.13,584.00L466.08,584.00L466.08,585.08L468.04,585.08L468.04,585.79L469.99,585.79L469.99,587.68L471.94,587.68L471.94,588.86L473.90,588.86L473.90,589.05L475.85,589.05L475.85,591.35L477.81,591.35L477.81,591.89L479.76,591.89L479.76,592.56L481.72,592.56L481.72,593.18L483.67,593.18L483.67,595.16L485.62,595.16L485.62,596.32L487.58,596.32L487.58,597.17L489.53,597.17L489.53,598.00L491.49,598.00L491.49,600.13L493.44,600.13L493.44,600.72L495.40,600.72L495.40,601.81L497.35,601.81L497.35,603.79L499.31,603.79L499.31,604.37L501.26,604.37L501.26,604.68L503.21,604.68L503.21,604.84L505.17,604.84L505.17,605.72L507.12,605.72L507.12,605.35L509.08,605.35L509.08,606.62L511.03,606.62L511.03,606.94L512.99,606.94L512.99,607.43L514.94,607.43L514.94,608.01L516.89,608.01L516.89,609.34L518.85,609.34L518.85,609.92L520.80,609.92L520.80,610.66L522.76,610.66L522.76,611.59L524.71,611.59L524.71,611.83L526.67,611.83L526.67,612.46L528.62,612.46L528.62,613.10L530.57,613.10L530.57,614.34L532.53,614.34L532.53,615.49L534.48,615.49L534.48,616.05L536.44,616.05L536.44,617.06L538.39,617.06L538.39,617.27L540.35,617.27L540.35,618.11L542.30,618.11L542.30,618.59L544.26,618.59L544.25,618.98L546.21,618.98L546.21,620.32L548.16,620.32L548.16,620.50L550.12,620.50L550.12,620.51L552.07,620.51L552.07,620.96L554.03,620.96L554.03,621.61L555.98,621.61L555.98,621.72L557.94,621.72L557.94,622.70L559.89,622.70L559.89,622.71L561.84,622.71L561.84,623.43L563.80,623.43L563.80,623.73L565.75,623.73L565.75,624.35L567.71,624.35L567.71,624.60L569.66,624.60L569.66,625.02L571.62,625.02L571.62,625.67L573.57,625.67L573.57,626.26L575.52,626.26L575.52,626.87L577.48,626.87L577.48,627.46L579.43,627.46L579.43,628.32L581.39,628.32L581.39,628.58L583.34,628.58L583.34,628.72L585.30,628.72L585.30,629.37L587.25,629.37L587.25,629.39L589.20,629.39L589.20,630.30L591.16,630.30L591.16,630.42L593.11,630.42L593.11,630.28L595.07,630.28L595.07,631.13L597.02,631.13L597.02,631.45L598.98,631.45L598.98,630.86L600.93,630.86L600.93,631.65L602.88,631.65L602.88,632.02L604.84,632.02L604.84,631.97L606.79,631.97L606.79,632.54L608.75,632.54L608.75,632.97L610.70,632.97L610.70,633.78L612.66,633.78L612.66,634.18L614.61,634.18L614.61,635.18L616.57,635.18L616.57,634.81L618.52,634.81L618.52,635.47L620.47,635.47L620.47,635.43L622.43,635.43L622.43,635.68L624.38,635.68L624.38,635.52L626.34,635.52L626.34,635.50L628.29,635.50L628.29,635.90L630.25,635.90L630.25,636.36L632.20,636.36L632.20,648.40Z"/></clipPath><pattern id="stripeB" x="45.9" y="0" width="1.9543" height="10" patternUnits="userSpaceOnUse"><rect x="0" y="0" width="0.8" height="10" fill="#0c1cc6" fill-opacity="0.6"/></pattern></defs>
<line x1="31.3" x2="647.4" y1="648.4" y2="648.4" stroke="#d0d0d0" stroke-width="0.8"/>
<line x1="45.90" x2="45.90" y1="648.4" y2="650.0" stroke="#c4c4c4" stroke-width="0.7"/>
<line x1="70.55" x2="70.55" y1="648.4" y2="650.0" stroke="#c4c4c4" stroke-width="0.7"/>
<line x1="95.20" x2="95.20" y1="648.4" y2="650.0" stroke="#c4c4c4" stroke-width="0.7"/>
<line x1="119.85" x2="119.85" y1="648.4" y2="650.0" stroke="#c4c4c4" stroke-width="0.7"/>
<line x1="144.50" x2="144.50" y1="648.4" y2="650.0" stroke="#c4c4c4" stroke-width="0.7"/>
<line x1="169.15" x2="169.15" y1="648.4" y2="650.0" stroke="#c4c4c4" stroke-width="0.7"/>
<line x1="193.80" x2="193.80" y1="648.4" y2="650.0" stroke="#c4c4c4" stroke-width="0.7"/>
<line x1="218.45" x2="218.45" y1="648.4" y2="650.0" stroke="#c4c4c4" stroke-width="0.7"/>
<line x1="243.10" x2="243.10" y1="648.4" y2="650.0" stroke="#c4c4c4" stroke-width="0.7"/>
<line x1="267.75" x2="267.75" y1="648.4" y2="650.0" stroke="#c4c4c4" stroke-width="0.7"/>
<line x1="292.40" x2="292.40" y1="648.4" y2="650.0" stroke="#c4c4c4" stroke-width="0.7"/>
<line x1="317.05" x2="317.05" y1="648.4" y2="650.0" stroke="#c4c4c4" stroke-width="0.7"/>
<line x1="341.70" x2="341.70" y1="648.4" y2="650.0" stroke="#c4c4c4" stroke-width="0.7"/>
<line x1="366.35" x2="366.35" y1="648.4" y2="650.0" stroke="#c4c4c4" stroke-width="0.7"/>
<line x1="391.00" x2="391.00" y1="648.4" y2="650.0" stroke="#c4c4c4" stroke-width="0.7"/>
<line x1="415.65" x2="415.65" y1="648.4" y2="650.0" stroke="#c4c4c4" stroke-width="0.7"/>
<line x1="440.30" x2="440.30" y1="648.4" y2="650.0" stroke="#c4c4c4" stroke-width="0.7"/>
<line x1="464.95" x2="464.95" y1="648.4" y2="650.0" stroke="#c4c4c4" stroke-width="0.7"/>
<line x1="489.60" x2="489.60" y1="648.4" y2="650.0" stroke="#c4c4c4" stroke-width="0.7"/>
<line x1="514.25" x2="514.25" y1="648.4" y2="650.0" stroke="#c4c4c4" stroke-width="0.7"/>
<line x1="538.90" x2="538.90" y1="648.4" y2="650.0" stroke="#c4c4c4" stroke-width="0.7"/>
<line x1="563.55" x2="563.55" y1="648.4" y2="650.0" stroke="#c4c4c4" stroke-width="0.7"/>
<line x1="588.20" x2="588.20" y1="648.4" y2="650.0" stroke="#c4c4c4" stroke-width="0.7"/>
<line x1="612.85" x2="612.85" y1="648.4" y2="650.0" stroke="#c4c4c4" stroke-width="0.7"/>
<line x1="637.50" x2="637.50" y1="648.4" y2="650.0" stroke="#c4c4c4" stroke-width="0.7"/>
<g clip-path="url(#clipB)"><line x1="133.5" x2="133.5" y1="343.3" y2="648.4" stroke="#0e1bbb" stroke-width="1.3"/></g>
<g clip-path="url(#clipB)"><line x1="185.7" x2="185.7" y1="343.3" y2="648.4" stroke="#0e1bbb" stroke-width="1.3"/></g>
<g clip-path="url(#clipB)"><line x1="256.5" x2="256.5" y1="343.3" y2="648.4" stroke="#0e1bbb" stroke-width="1.3"/></g>
<g clip-path="url(#clipB)"><line x1="344.6" x2="344.6" y1="343.3" y2="648.4" stroke="#0e1bbb" stroke-width="1.3"/></g>
<g clip-path="url(#clipB)"><line x1="443.4" x2="443.4" y1="343.3" y2="648.4" stroke="#0e1bbb" stroke-width="1.3"/></g>
<rect x="134.4" y="618.8" width="40.00" height="9.20" fill="#ffffff" stroke="#c9c9c9" stroke-width="0.5"/>
<text x="136.00" y="626.10" font-size="7" fill="#2a2a2a" textLength="36.80" lengthAdjust="spacingAndGlyphs">P10 = 7.05</text>
<rect x="187.4" y="611.9" width="42.40" height="8.90" fill="#ffffff" stroke="#c9c9c9" stroke-width="0.5"/>
<text x="189.00" y="618.90" font-size="7" fill="#2a2a2a" textLength="39.20" lengthAdjust="spacingAndGlyphs">P25 = 11.28</text>
<rect x="257.9" y="605.2" width="43.20" height="9.20" fill="#ffffff" stroke="#c9c9c9" stroke-width="0.5"/>
<text x="259.50" y="612.50" font-size="7" fill="#2a2a2a" textLength="40.00" lengthAdjust="spacingAndGlyphs">P50 = 17.02</text>
<rect x="346.3" y="597.9" width="42.70" height="8.70" fill="#ffffff" stroke="#c9c9c9" stroke-width="0.5"/>
<text x="347.90" y="604.70" font-size="7" fill="#2a2a2a" textLength="39.50" lengthAdjust="spacingAndGlyphs">P75 = 24.19</text>
<rect x="444.8" y="590.4" width="43.20" height="8.50" fill="#ffffff" stroke="#c9c9c9" stroke-width="0.5"/>
<text x="446.40" y="597.00" font-size="7" fill="#2a2a2a" textLength="40.00" lengthAdjust="spacingAndGlyphs">P90 = 32.18</text>
<rect x="31.3" y="343.3" width="35.2" height="33.2" fill="#fffff2" stroke="#b4b4ac" stroke-width="0.8"/>
<text x="49.0" y="370.70" font-size="31.5" text-anchor="middle" fill="#2e2e2e" stroke="#2e2e2e" stroke-width="0.4">B</text>
<text x="29.0" y="470.1" font-size="11" text-anchor="end" fill="#3a3a3a">0.01</text>
<text x="25.9" y="656.0" font-size="11" text-anchor="end" fill="#3a3a3a">0</text>
<text x="650.2" y="432.3" font-size="11" fill="#3a3a3a">60</text>
<text x="650.0" y="508.1" font-size="11" fill="#3a3a3a">40</text>
<text x="649.2" y="586.6" font-size="11" fill="#3a3a3a">20</text>
<text x="651.0" y="656.7" font-size="11" fill="#3a3a3a">0</text>
<text x="45.9" y="662.2" font-size="11" text-anchor="middle" fill="#3a3a3a">0</text>
<text x="144.5" y="662.2" font-size="11" text-anchor="middle" fill="#3a3a3a">10</text>
<text x="292.0" y="662.2" font-size="11" text-anchor="middle" fill="#3a3a3a">20</text>
<text x="440.2" y="662.2" font-size="11" text-anchor="middle" fill="#3a3a3a">30</text>
<text x="564.0" y="662.2" font-size="11" text-anchor="middle" fill="#3a3a3a">40</text>
<path d="M28.900000000000002,646.5L31.1,648.4L28.900000000000002,650.3Z" fill="#4a4a4a"/>
<text x="256.0" y="674.5" font-size="14" fill="#333" textLength="143.4" stroke="#333" stroke-width="0.2" lengthAdjust="spacingAndGlyphs">Trillion cubic feet (TCF)</text>
<text transform="translate(18.6,539.0) rotate(-90)" font-size="14" fill="#333" text-anchor="middle" textLength="66.5" stroke="#333" stroke-width="0.2" lengthAdjust="spacingAndGlyphs">Probability</text>
<text transform="translate(669.3,506.8) rotate(90)" font-size="14" fill="#333" text-anchor="middle" textLength="133.4" stroke="#333" stroke-width="0.2" lengthAdjust="spacingAndGlyphs">Frequency (thousand)</text>
</svg>
</body></html>
